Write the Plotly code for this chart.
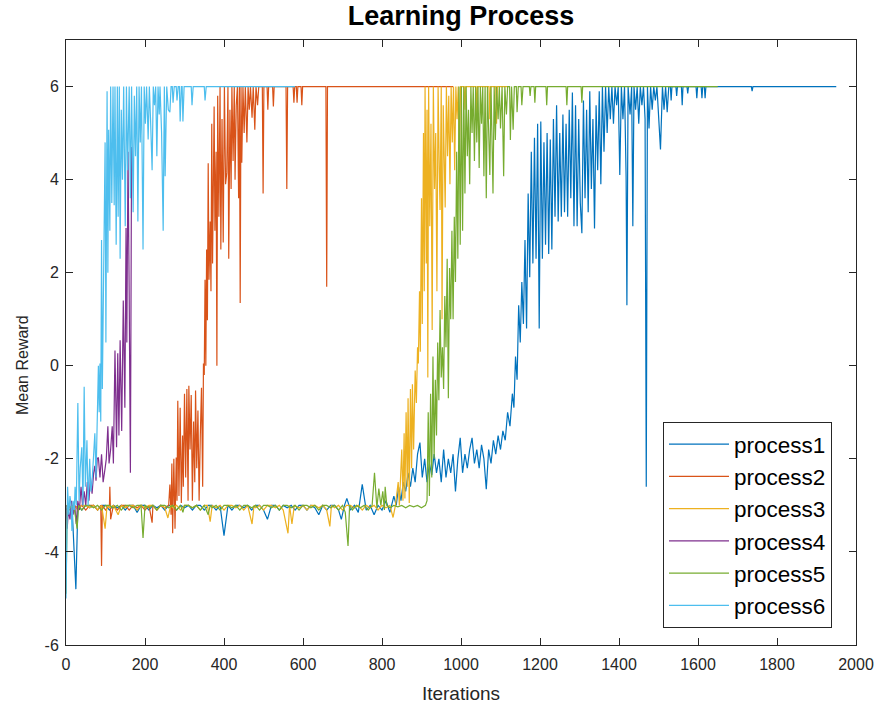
import plotly.graph_objects as go

# ---------------- data (iteration, mean reward) ----------------
process1_points = [
    (0, -3.1), (8, -3.0), (16, -3.15), (25, -4.8), (30, -3.0), (40, -3.1), (50, -3.0), (60, -3.05),
    (70, -3.0), (80, -3.1), (90, -3.0), (100, -3.0), (110, -3.1), (120, -3.0), (130, -3.05), (140, -3.0),
    (150, -3.1), (160, -3.0), (170, -3.0), (180, -3.15), (190, -3.0), (200, -3.0), (210, -3.1), (220, -3.0),
    (230, -3.05), (240, -3.0), (250, -3.1), (260, -3.0), (270, -3.0), (280, -3.1), (290, -3.0), (300, -3.05),
    (310, -3.0), (320, -3.1), (330, -3.0), (340, -3.0), (350, -3.1), (360, -3.0), (370, -3.0), (380, -3.1),
    (390, -3.0), (400, -3.65), (410, -3.0), (420, -3.1), (430, -3.0), (440, -3.0), (450, -3.05), (460, -3.0),
    (470, -3.1), (480, -3.0), (490, -3.0), (500, -3.1), (510, -3.3), (520, -3.0), (530, -3.0), (540, -3.1),
    (550, -3.0), (560, -3.05), (570, -3.0), (580, -3.1), (590, -3.0), (600, -3.0), (610, -3.1), (620, -3.0),
    (630, -3.05), (640, -3.2), (650, -3.0), (660, -3.1), (670, -3.0), (680, -3.0), (690, -3.1), (697, -3.3),
    (705, -3.0), (711, -2.85), (720, -3.1), (730, -3.0), (740, -3.15), (750, -2.55), (760, -3.1), (770, -3.0),
    (780, -3.2), (790, -3.0), (800, -3.1), (810, -2.9), (820, -3.15), (830, -2.8), (836, -3.0), (842, -2.6),
    (848, -2.9), (854, -2.5), (860, -2.7), (866, -2.3), (872, -2.6), (878, -2.2), (884, -2.5), (890, -1.9),
    (896, -1.65), (902, -2.4), (908, -2.0), (914, -2.5), (920, -2.1), (926, -2.35), (932, -1.9), (938, -2.3),
    (944, -2.0), (950, -2.5), (956, -1.8), (962, -2.4), (968, -2.0), (974, -2.3), (980, -1.9), (986, -2.7),
    (992, -2.0), (998, -1.55), (1004, -2.3), (1010, -1.9), (1016, -2.2), (1022, -1.8), (1028, -1.55),
    (1034, -2.1), (1040, -1.8), (1046, -2.2), (1052, -1.7), (1058, -2.0), (1064, -2.65), (1070, -1.8),
    (1076, -2.1), (1082, -1.6), (1088, -1.9), (1094, -1.5), (1100, -1.8), (1106, -1.4), (1112, -1.6),
    (1118, -1.0), (1124, -1.3), (1130, -0.6), (1134, -0.9), (1138, 0.2), (1142, -0.3), (1146, 1.3),
    (1150, 0.5), (1154, 1.8), (1158, 0.9), (1162, 2.7), (1166, 0.8), (1170, 3.7), (1174, 1.9), (1178, 4.6),
    (1182, 2.2), (1186, 4.9), (1190, 2.3), (1194, 5.2), (1198, 0.8), (1202, 5.25), (1206, 2.3), (1210, 4.8),
    (1214, 2.6), (1218, 5.0), (1222, 2.4), (1226, 4.86), (1230, 2.5), (1234, 5.3), (1238, 3.2), (1242, 5.6),
    (1246, 3.1), (1250, 5.0), (1254, 3.2), (1258, 5.4), (1262, 3.3), (1266, 5.2), (1270, 3.2), (1274, 5.5),
    (1278, 3.6), (1282, 5.87), (1286, 3.0), (1290, 5.6), (1294, 3.0), (1298, 5.3), (1302, 3.5), (1306, 2.85),
    (1310, 5.7), (1314, 3.6), (1318, 5.5), (1322, 3.3), (1326, 5.9), (1330, 3.8), (1334, 5.3), (1338, 2.95),
    (1342, 5.6), (1346, 4.2), (1350, 5.9), (1354, 3.9), (1358, 6.0), (1362, 4.6), (1366, 6.0), (1370, 5.0),
    (1374, 6.0), (1378, 5.3), (1382, 6.0), (1386, 5.2), (1390, 6.0), (1394, 5.6), (1398, 6.0), (1402, 4.1),
    (1406, 6.0), (1410, 5.3), (1414, 6.0), (1418, 4.05), (1420, 1.3), (1423, 6.0), (1428, 5.4), (1432, 6.0),
    (1435, 3.0), (1438, 6.0), (1442, 5.5), (1446, 6.0), (1450, 5.2), (1454, 6.0), (1458, 5.6), (1462, 6.0),
    (1466, 5.3), (1469, -2.6), (1472, 6.0), (1476, 5.1), (1480, 6.0), (1484, 5.5), (1488, 6.0), (1492, 5.7),
    (1496, 6.0), (1500, 5.4), (1505, 4.65), (1510, 6.0), (1514, 5.5), (1518, 6.0), (1522, 5.45), (1526, 6.0),
    (1530, 6.0), (1532, 5.7), (1534, 6.0), (1544, 6.0), (1546, 5.8), (1548, 6.0), (1558, 6.0), (1560, 5.6),
    (1562, 6.0), (1572, 6.0), (1574, 5.85), (1576, 6.0), (1595, 6.0), (1597, 5.75), (1599, 6.0), (1608, 6.0),
    (1610, 5.75), (1612, 6.0), (1616, 6.0), (1618, 5.75), (1620, 6.0), (1735, 6.0), (1737, 5.9), (1739, 6.0),
    (1950, 6.0),
]

process2_points = [
    (0, -3.0), (10, -3.1), (20, -3.0), (30, -3.05), (40, -3.0), (50, -3.1), (60, -3.0), (70, -3.0),
    (80, -3.1), (88, -3.0), (90, -4.3), (92, -3.0), (100, -3.1), (110, -3.0), (111, -2.6), (113, -3.3),
    (120, -3.0), (130, -3.1), (140, -3.0), (150, -3.0), (160, -3.1), (170, -3.0), (180, -3.05), (190, -3.0),
    (200, -3.1), (210, -3.0), (218, -3.37), (220, -3.0), (230, -3.1), (240, -3.0), (250, -3.05), (260, -3.0),
    (263, -2.55), (266, -3.2), (268, -2.1), (270, -3.6), (273, -2.0), (276, -3.5), (279, -1.97), (281, -2.9),
    (283, -0.75), (286, -2.8), (289, -0.9), (292, -2.95), (295, -1.5), (297, -2.6), (300, -0.6), (303, -2.4),
    (306, -0.5), (309, -2.9), (311, -0.43), (314, -1.8), (317, -0.63), (320, -2.9), (323, -1.2), (326, -2.5),
    (328, -0.53), (331, -2.2), (334, -0.96), (337, -2.9), (340, -1.5), (343, -0.47), (346, -2.6), (348, 0.05),
    (350, -0.2), (352, 1.85), (354, 0.0), (356, 2.5), (358, 0.98), (360, 4.35), (362, 1.85), (365, 3.1),
    (367, 1.6), (369, 5.2), (371, 2.2), (373, 4.0), (375, 5.57), (377, 2.9), (380, 4.6), (382, 0.0),
    (384, 5.8), (387, 3.2), (390, 6.0), (392, 2.5), (395, 5.3), (398, 2.65), (401, 6.0), (404, 3.9),
    (407, 4.15), (410, 6.0), (412, 2.3), (415, 5.5), (418, 3.8), (420, 6.0), (423, 4.4), (426, 6.0),
    (428, 4.0), (431, 5.6), (434, 6.0), (437, 3.6), (439, 6.0), (441, 1.35), (443, 6.0), (445, 4.36),
    (448, 6.0), (451, 5.0), (454, 6.0), (458, 4.8), (461, 6.0), (464, 5.5), (467, 6.0), (471, 5.33),
    (474, 6.0), (478, 5.07), (481, 6.0), (485, 5.6), (488, 6.0), (497, 6.0), (499, 3.7), (501, 6.0),
    (509, 6.0), (511, 5.5), (513, 6.0), (523, 6.0), (525, 5.57), (527, 6.0), (557, 6.0), (559, 3.8),
    (561, 6.0), (575, 6.0), (577, 5.65), (579, 6.0), (583, 6.0), (585, 5.65), (587, 6.0), (595, 6.0),
    (597, 5.6), (599, 6.0), (658, 6.0), (660, 1.7), (662, 6.0), (980, 6.0),
]

process3_points = [
    (0, -3.0), (10, -3.05), (20, -3.0), (30, -3.1), (40, -3.0), (50, -3.0), (60, -3.05), (70, -3.0),
    (80, -3.1), (90, -3.0), (99, -3.5), (104, -3.0), (110, -3.05), (120, -3.0), (132, -3.2), (140, -3.0),
    (150, -3.05), (160, -3.0), (170, -3.0), (180, -3.1), (190, -3.0), (200, -3.05), (210, -3.0), (220, -3.0),
    (230, -3.1), (240, -3.0), (250, -3.05), (258, -3.27), (265, -3.0), (270, -3.05), (280, -3.0), (290, -3.1),
    (300, -3.0), (310, -3.0), (320, -3.05), (330, -3.0), (340, -3.1), (350, -3.0), (358, -3.0), (365, -3.35),
    (370, -3.0), (380, -3.05), (390, -3.0), (400, -3.1), (410, -3.0), (420, -3.0), (430, -3.05), (440, -3.0),
    (450, -3.1), (460, -3.0), (471, -3.4), (476, -3.0), (480, -3.05), (490, -3.0), (500, -3.1), (510, -3.0),
    (520, -3.0), (530, -3.05), (540, -3.0), (550, -3.1), (562, -3.6), (566, -3.0), (572, -3.4), (578, -3.0),
    (590, -3.05), (600, -3.0), (610, -3.1), (620, -3.0), (630, -3.0), (640, -3.05), (650, -3.0), (660, -3.1),
    (668, -3.45), (672, -3.0), (680, -3.05), (690, -3.0), (700, -3.1), (710, -3.0), (720, -3.0), (730, -3.05),
    (740, -3.0), (750, -3.1), (760, -3.0), (770, -3.05), (780, -3.0), (790, -3.1), (800, -3.0), (810, -3.05),
    (820, -3.0), (828, -3.26), (834, -3.0), (841, -2.5), (844, -3.0), (847, -2.2), (850, -1.8), (853, -2.9),
    (856, -1.45), (858, -2.85), (861, -1.0), (864, -2.6), (866, -0.7), (869, -2.95), (872, -0.5), (875, -2.2),
    (877, -0.4), (880, -1.8), (884, -0.1), (887, -0.8), (890, 0.4), (892, 0.05), (895, 1.6), (897, 0.3),
    (900, 3.6), (902, 0.9), (905, 5.0), (907, 1.6), (909, 6.0), (912, 2.2), (914, 5.5), (916, -0.25),
    (918, 6.0), (921, 3.0), (924, 5.2), (927, 0.77), (930, 6.0), (933, 3.8), (936, 5.0), (939, 1.6),
    (942, 6.0), (945, 4.2), (947, 3.35), (950, 6.0), (952, 1.0), (955, 5.6), (958, 4.0), (960, 3.4),
    (963, 6.0), (966, 4.5), (969, 5.8), (972, 3.9), (975, 6.0), (978, 4.8), (981, 6.0), (984, 4.2),
    (987, 6.0), (990, 5.3), (993, 6.0), (996, 4.6), (999, 6.0), (1008, 6.0), (1010, 5.5), (1012, 6.0),
    (1038, 6.0), (1040, 5.4), (1042, 6.0), (1071, 6.0), (1073, 5.3), (1075, 6.0), (1088, 6.0), (1090, 5.2),
    (1092, 6.0), (1120, 6.0),
]

process4_points = [
    (0, -3.0), (3, -3.5), (6, -3.1), (10, -3.3), (14, -2.9), (18, -3.2), (22, -3.0), (26, -3.4),
    (30, -2.9), (34, -3.1), (38, -2.6), (42, -3.0), (46, -2.7), (50, -3.0), (54, -2.5), (58, -2.9),
    (62, -2.4), (66, -2.75), (70, -2.3), (73, -2.15), (76, -2.47), (79, -2.0), (82, -1.97), (86, -2.4),
    (90, -1.9), (94, -2.5), (99, -2.2), (102, -2.0), (106, -1.3), (109, -2.1), (113, -1.8), (117, -1.3),
    (120, -2.1), (124, 0.33), (128, -1.75), (131, 0.27), (134, -1.5), (137, 0.55), (141, -1.4), (145, 1.4),
    (149, -0.9), (152, 2.96), (154, 0.5), (157, 4.6), (160, 1.5), (163, -2.3), (166, 4.7),
]

process5_points = [
    (0, -4.9), (3, -3.0), (10, -3.05), (20, -3.0), (28, -3.5), (32, -3.0), (40, -3.1), (50, -3.0),
    (60, -3.0), (70, -3.05), (80, -3.0), (90, -3.1), (100, -3.0), (110, -3.0), (120, -3.05), (130, -3.0),
    (140, -3.1), (150, -3.0), (160, -3.0), (170, -3.05), (180, -3.0), (190, -3.0), (195, -3.7), (200, -3.0),
    (210, -3.05), (220, -3.0), (230, -3.1), (240, -3.0), (250, -3.0), (260, -3.05), (270, -3.0), (280, -3.1),
    (290, -3.0), (296, -3.15), (300, -3.0), (310, -3.0), (320, -3.05), (330, -3.0), (340, -3.1), (350, -3.0),
    (360, -3.2), (365, -3.0), (370, -3.05), (380, -3.0), (390, -3.1), (400, -3.0), (410, -3.0), (420, -3.05),
    (430, -3.0), (440, -3.1), (450, -3.0), (460, -3.0), (470, -3.05), (480, -3.0), (490, -3.1), (500, -3.0),
    (510, -3.0), (520, -3.05), (530, -3.0), (540, -3.1), (550, -3.0), (560, -3.0), (570, -3.05), (580, -3.0),
    (590, -3.1), (600, -3.0), (610, -3.0), (620, -3.05), (630, -3.0), (640, -3.1), (650, -3.0), (660, -3.0),
    (670, -3.05), (680, -3.0), (690, -3.1), (700, -3.0), (707, -3.15), (714, -3.87), (718, -3.0), (725, -3.1),
    (735, -3.0), (745, -3.05), (755, -3.0), (765, -3.1), (775, -3.0), (781, -2.3), (787, -3.05), (792, -2.64),
    (797, -3.0), (802, -2.7), (806, -3.1), (808, -2.6), (812, -3.0), (820, -3.05), (830, -3.0), (840, -3.03),
    (850, -3.0), (860, -3.05), (870, -3.0), (880, -3.03), (890, -3.0), (900, -3.05), (910, -3.0), (914, -2.9),
    (917, -1.0), (920, -2.8), (923, -0.6), (926, -2.4), (929, 0.2), (932, -2.0), (935, -0.3), (938, -1.5),
    (941, 0.5), (944, -0.74), (947, 1.2), (950, -0.25), (953, 0.4), (956, -0.5), (959, 1.5), (962, 0.4),
    (965, 2.3), (968, -0.7), (971, 2.1), (974, 1.0), (977, 2.9), (980, 1.0), (983, 3.2), (986, 1.8),
    (989, 4.6), (992, 2.3), (995, 6.0), (998, 2.6), (1001, 6.0), (1004, 2.9), (1007, 6.0), (1010, 3.7),
    (1013, 6.0), (1016, 4.5), (1019, 5.5), (1022, 3.9), (1025, 6.0), (1028, 5.0), (1031, 6.0), (1034, 4.4),
    (1037, 6.0), (1040, 4.8), (1043, 6.0), (1046, 4.25), (1049, 6.0), (1052, 5.2), (1055, 6.0), (1058, 4.07),
    (1061, 6.0), (1064, 3.6), (1067, 6.0), (1070, 4.9), (1073, 4.1), (1076, 6.0), (1079, 4.35), (1081, 3.7),
    (1084, 6.0), (1087, 4.85), (1090, 6.0), (1094, 5.3), (1097, 6.0), (1100, 5.1), (1104, 6.0), (1108, 4.07),
    (1111, 6.0), (1115, 5.4), (1118, 6.0), (1123, 6.0), (1125, 4.85), (1128, 6.0), (1132, 5.07), (1135, 6.0),
    (1140, 6.0), (1142, 5.45), (1145, 6.0), (1152, 6.0), (1154, 5.6), (1157, 6.0), (1173, 6.0), (1175, 5.8),
    (1177, 6.0), (1185, 6.0), (1187, 5.65), (1189, 6.0), (1215, 6.0), (1217, 5.6), (1219, 6.0), (1266, 6.0),
    (1268, 5.6), (1270, 6.0), (1304, 6.0), (1306, 5.65), (1308, 6.0), (1650, 6.0),
]

process6_points = [
    (0, -5.0), (2, -3.0), (4, -2.6), (7, -3.2), (10, -2.8), (13, -3.0), (15, -3.55), (18, -2.9),
    (21, -3.1), (23, -2.6), (26, -3.0), (28, -1.9), (30, -0.8), (33, -2.9), (36, -2.2), (40, -1.75),
    (43, -3.0), (46, -0.45), (49, -2.6), (53, -1.6), (56, -3.0), (60, -2.0), (63, -2.7), (66, -2.5),
    (70, -1.8), (73, -1.45), (76, -2.4), (79, -1.0), (82, 0.0), (84, -1.0), (86, 0.05), (88, -1.2),
    (90, 2.7), (92, -0.5), (94, 1.2), (96, 3.1), (99, 4.8), (101, 0.5), (104, 5.9), (106, 2.0),
    (108, 5.07), (111, 2.9), (113, 6.0), (116, 3.5), (119, 6.0), (122, 3.45), (124, 6.0), (127, 2.6),
    (130, 6.0), (132, 3.2), (135, 6.0), (137, 2.3), (140, 5.5), (143, 4.0), (146, 6.0), (150, 3.0),
    (153, 6.0), (156, 4.2), (160, 6.0), (163, 3.6), (166, 6.0), (170, 3.3), (173, 5.8), (176, 4.5),
    (179, 6.0), (182, 3.1), (185, 6.0), (188, 4.8), (191, 6.0), (195, 2.5), (198, 6.0), (201, 5.2),
    (204, 6.0), (208, 4.86), (211, 6.0), (214, 5.3), (218, 4.2), (221, 6.0), (224, 5.6), (227, 6.0),
    (230, 4.5), (233, 6.0), (236, 5.4), (238, 6.0), (242, 5.0), (246, 2.9), (249, 6.0), (251, 4.07),
    (255, 6.0), (259, 5.5), (263, 5.45), (266, 6.0), (269, 6.0), (271, 5.65), (274, 6.0), (279, 6.0),
    (281, 5.7), (284, 6.0), (287, 6.0), (289, 5.25), (292, 6.0), (294, 6.0), (296, 5.25), (299, 6.0),
    (317, 6.0), (319, 5.6), (322, 6.0), (350, 6.0), (352, 5.7), (355, 6.0), (580, 6.0),
]

series_names = ["process1", "process2", "process3", "process4", "process5", "process6"]
series_points = [process1_points, process2_points, process3_points,
                 process4_points, process5_points, process6_points]
series_colors = ["#0072BD", "#D95319", "#EDB120", "#7E2F8E", "#77AC30", "#4DBEEE"]

x_ticks = [0, 200, 400, 600, 800, 1000, 1200, 1400, 1600, 1800, 2000]
y_ticks = [-6, -4, -2, 0, 2, 4, 6]
y_tick_labels = ["-6", "-4", "-2", "0", "2", "4", "6"]

# ---------------- figure ----------------
FONT = "Liberation Sans, Arial, Helvetica, sans-serif"
AX = "#262626"

fig = go.Figure()
for name, pts, col in zip(series_names, series_points, series_colors):
    fig.add_trace(go.Scatter(
        x=[p[0] for p in pts], y=[p[1] for p in pts],
        mode="lines", name=name,
        line=dict(color=col, width=1.2),
    ))

fig.update_layout(
    width=881, height=709,
    margin=dict(l=66, r=25, t=40, b=64),
    paper_bgcolor="white", plot_bgcolor="white",
    font=dict(family=FONT, color=AX),
    title=dict(text="<b>Learning Process</b>", x=0.5, xref="paper", xanchor="center",
               y=1 - 16 / 709, yref="container", yanchor="middle",
               font=dict(family=FONT, size=27, color="black")),
    showlegend=True,
    legend=dict(x=(663 - 66) / 790, y=(645 - 422) / 605, xanchor="left", yanchor="top",
                bgcolor="white", bordercolor=AX, borderwidth=1,
                font=dict(family=FONT, size=22.5, color="black"),
                tracegroupgap=0, itemwidth=60),
    annotations=[dict(text="Mean Reward", textangle=-90, showarrow=False,
                      xref="paper", x=(22 - 66) / 790, xanchor="center",
                      yref="paper", y=(645 - 365) / 605, yanchor="middle",
                      font=dict(family=FONT, size=16, color=AX))],
)
fig.update_xaxes(
    range=[0, 2000], tickvals=x_ticks, showgrid=False, zeroline=False, automargin=False,
    showline=True, linecolor=AX, linewidth=1, mirror="ticks",
    ticks="inside", ticklen=7, tickcolor=AX, tickwidth=1,
    tickfont=dict(family=FONT, size=16, color=AX), ticklabelstandoff=5,
    title=dict(text="Iterations", font=dict(family=FONT, size=19, color=AX), standoff=14),
)
fig.update_yaxes(
    range=[-6, 7], tickvals=y_ticks, ticktext=y_tick_labels, showgrid=False, zeroline=False,
    automargin=False,
    showline=True, linecolor=AX, linewidth=1, mirror="ticks",
    ticks="inside", ticklen=7, tickcolor=AX, tickwidth=1,
    tickfont=dict(family=FONT, size=16, color=AX), ticklabelstandoff=3,
)

fig.write_html("out.html", config={"displayModeBar": False},
               post_script="document.body.style.margin='0';")
